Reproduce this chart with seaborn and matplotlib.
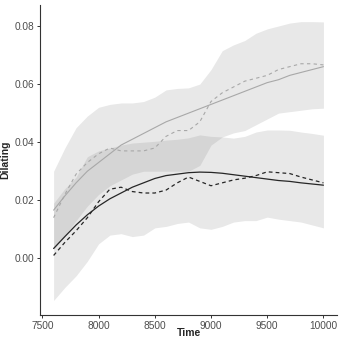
import numpy as np
import pandas as pd
import matplotlib
matplotlib.use('Agg')
import matplotlib.pyplot as plt
import seaborn as sns

# time grid (ms) shared by every series
time = [7600, 7700, 7800, 7900, 8000, 8100, 8200, 8300, 8400, 8500, 8600, 8700, 8800,
        8900, 9000, 9100, 9200, 9300, 9400, 9500, 9600, 9700, 9800, 9900, 10000]

# grey condition: raw mean (dashed), smooth fit (solid), ribbon edges
grey_mean = [0.014, 0.022, 0.029, 0.033, 0.036, 0.038, 0.037, 0.037, 0.037, 0.038, 0.042, 0.044, 0.044,
             0.047, 0.054, 0.057, 0.059, 0.061, 0.062, 0.063, 0.065, 0.066, 0.067, 0.067, 0.0666]
grey_fit = [0.0166, 0.0215, 0.026, 0.030, 0.033, 0.036, 0.039, 0.041, 0.043, 0.045, 0.047, 0.0485, 0.050,
            0.0515, 0.053, 0.0545, 0.056, 0.0575, 0.059, 0.0605, 0.0615, 0.063, 0.064, 0.065, 0.066]
grey_hi = [0.030, 0.038, 0.045, 0.049, 0.052, 0.053, 0.0535, 0.0535, 0.054, 0.0555, 0.058, 0.0585, 0.0587,
           0.060, 0.065, 0.0715, 0.0735, 0.075, 0.0775, 0.079, 0.080, 0.081, 0.0815, 0.0815, 0.0814]
grey_lo = [0.003, 0.008, 0.013, 0.018, 0.022, 0.025, 0.027, 0.029, 0.030, 0.030, 0.030, 0.030, 0.030,
           0.032, 0.039, 0.0418, 0.0432, 0.044, 0.046, 0.048, 0.050, 0.0505, 0.051, 0.0515, 0.0517]

# black condition
black_mean = [0.001, 0.0055, 0.0095, 0.014, 0.0195, 0.0238, 0.0245, 0.023, 0.0225, 0.0225, 0.0235, 0.026, 0.028,
              0.0265, 0.025, 0.026, 0.027, 0.0276, 0.0285, 0.0298, 0.0295, 0.0292, 0.028, 0.027, 0.026]
black_fit = [0.0034, 0.0075, 0.0115, 0.015, 0.018, 0.0205, 0.0225, 0.0245, 0.026, 0.0275, 0.0285, 0.029, 0.0295,
             0.0297, 0.0296, 0.0293, 0.0288, 0.0283, 0.0278, 0.0273, 0.0268, 0.0265, 0.026, 0.0256, 0.0252]
black_hi = [0.019, 0.024, 0.028, 0.035, 0.037, 0.038, 0.039, 0.0397, 0.040, 0.0403, 0.0407, 0.041, 0.0415,
            0.0425, 0.042, 0.0418, 0.0414, 0.042, 0.0435, 0.0442, 0.0442, 0.0441, 0.0435, 0.043, 0.0424]
black_lo = [-0.0145, -0.010, -0.006, -0.001, 0.005, 0.008, 0.0085, 0.0075, 0.008, 0.0105, 0.011, 0.012, 0.0125,
            0.0105, 0.010, 0.011, 0.0125, 0.013, 0.013, 0.0142, 0.0135, 0.013, 0.0125, 0.0115, 0.0105]

x_ticks = [7500, 8000, 8500, 9000, 9500, 10000]
y_ticks = [0.00, 0.02, 0.04, 0.06, 0.08]

sns.set_style('ticks')
plt.rcParams['font.family'] = ['Liberation Sans', 'DejaVu Sans']

fig = plt.figure(figsize=(3.4, 3.38), dpi=100)
ax = fig.add_axes([0.118, 0.068, 0.873, 0.917])

# ribbons, translucent grey so the overlap shows darker
ax.fill_between(time, grey_lo, grey_hi, color='#808080', alpha=0.18, linewidth=0)
ax.fill_between(time, black_lo, black_hi, color='#808080', alpha=0.18, linewidth=0)

sns.lineplot(x=time, y=grey_fit, ax=ax, color='#a8a8a8', linewidth=0.8)
sns.lineplot(x=time, y=grey_mean, ax=ax, color='#a8a8a8', linewidth=0.8, linestyle=(0, (3, 3)))
sns.lineplot(x=time, y=black_fit, ax=ax, color='#262626', linewidth=0.9)
sns.lineplot(x=time, y=black_mean, ax=ax, color='#262626', linewidth=0.9, linestyle=(0, (3, 2.5)))

ax.set_xlim(7480, 10120)
ax.set_ylim(-0.0195, 0.0872)
ax.set_xticks(x_ticks)
ax.set_yticks(y_ticks)
ax.set_yticklabels([f'{v:.2f}' for v in y_ticks])
ax.tick_params(axis='both', labelsize=7.3, colors='#4d4d4d', length=2.5, width=0.7, pad=1.5)
ax.tick_params(axis='both', color='#333333')
for s in ['left', 'bottom']:
    ax.spines[s].set_color('#333333')
    ax.spines[s].set_linewidth(0.8)
sns.despine(ax=ax)

ax.set_xlabel('Time', fontsize=7.5, fontweight='bold', labelpad=-2)
ax.set_ylabel('Dilating', fontsize=7.5, fontweight='bold', labelpad=3)

fig.savefig('out.png', dpi=100)
